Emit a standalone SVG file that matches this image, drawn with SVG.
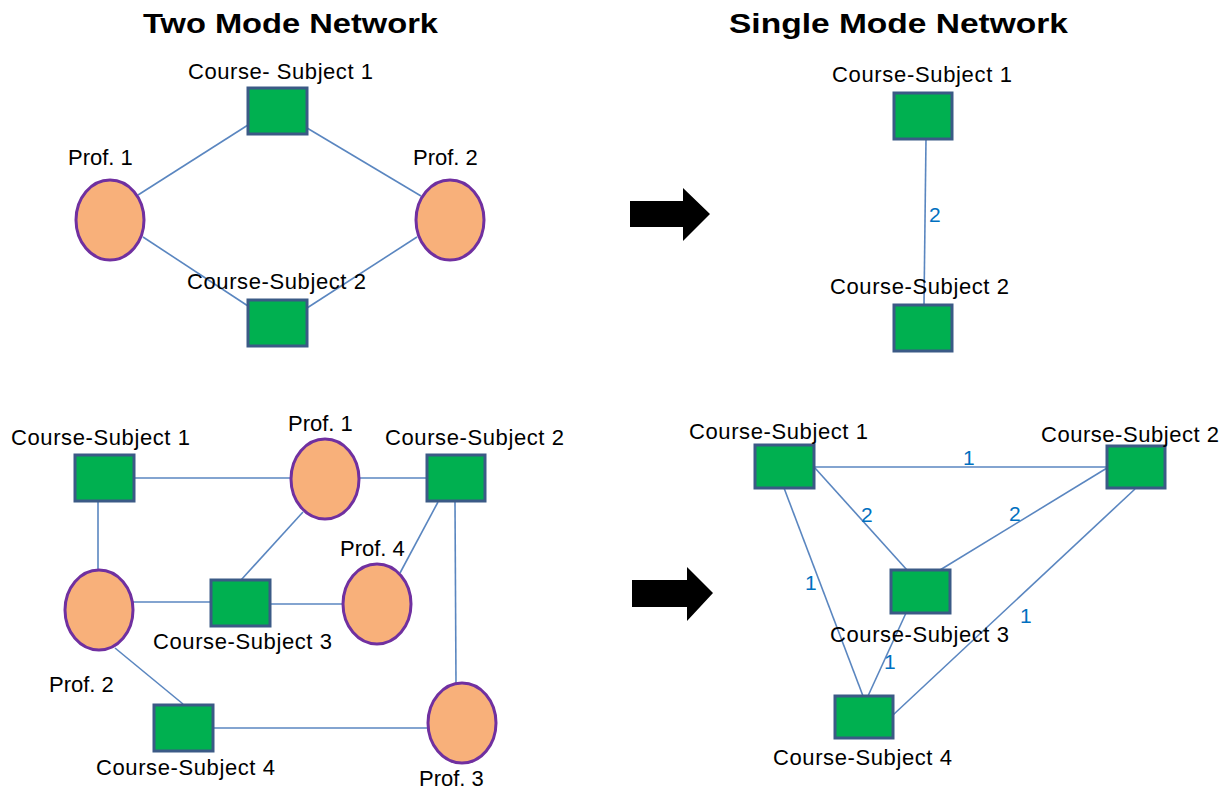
<svg xmlns="http://www.w3.org/2000/svg" width="1231" height="791" viewBox="0 0 1231 791">
  <style>
    .title { font-family: "Liberation Sans", Arial, sans-serif; font-weight: bold; font-size: 28px; fill: #000; }
    .lbl { font-family: "Liberation Sans", Arial, sans-serif; font-size: 22px; fill: #000; }
    .num { font-family: "Liberation Sans", Arial, sans-serif; font-size: 21px; fill: #0070C0; }
    .course { fill: #00B050; stroke: #3B5A86; stroke-width: 3; }
    .prof { fill: #F8B07A; stroke: #7030A0; stroke-width: 3; }
    .edge { stroke: #5A86C0; stroke-width: 1.6; fill: none; }
    .arrow { fill: #000; }
  </style>

  <!-- headings -->
  <text class="title" x="143" y="33" textLength="295" lengthAdjust="spacingAndGlyphs">Two Mode Network</text>
  <text class="title" x="729" y="33" textLength="339" lengthAdjust="spacingAndGlyphs">Single Mode Network</text>

  <!-- transformation arrows -->
  <g id="arrow-top"><polygon class="arrow" points="630,201 683,201 683,188 710,214 683,241 683,227 630,227"/></g>
  <g id="arrow-bottom"><polygon class="arrow" points="632,580 687,580 687,567 713,593 687,621 687,607 632,607"/></g>

  <!-- connectors -->
  <g id="connectors">
    <!-- two mode, top -->
    <line class="edge" x1="248" y1="125" x2="138" y2="195"/>
    <line class="edge" x1="307" y1="128" x2="421" y2="196"/>
    <line class="edge" x1="143" y1="237" x2="248" y2="306"/>
    <line class="edge" x1="417" y1="237" x2="307" y2="308"/>
    <!-- single mode, top -->
    <line class="edge" x1="926" y1="139" x2="924" y2="304"/>
    <!-- two mode, bottom -->
    <line class="edge" x1="134" y1="478" x2="291" y2="478"/>
    <line class="edge" x1="360" y1="478" x2="427" y2="478"/>
    <line class="edge" x1="98" y1="502" x2="98" y2="570"/>
    <line class="edge" x1="303" y1="512" x2="241" y2="580"/>
    <line class="edge" x1="438" y1="502" x2="400" y2="573"/>
    <line class="edge" x1="455" y1="502" x2="456" y2="683"/>
    <line class="edge" x1="133" y1="602" x2="211" y2="602"/>
    <line class="edge" x1="270" y1="604" x2="342" y2="604"/>
    <line class="edge" x1="115" y1="648" x2="183" y2="704"/>
    <line class="edge" x1="213" y1="728" x2="427" y2="728"/>
    <!-- single mode, bottom -->
    <line class="edge" x1="814" y1="467" x2="1107" y2="467"/>
    <line class="edge" x1="815" y1="468" x2="907" y2="570"/>
    <line class="edge" x1="940" y1="570" x2="1107" y2="468"/>
    <line class="edge" x1="784" y1="488" x2="863" y2="696"/>
    <line class="edge" x1="906" y1="613" x2="868" y2="696"/>
    <line class="edge" x1="1135" y1="489" x2="893" y2="715"/>
  </g>

  <!-- edge weights -->
  <g id="weights">
    <text class="num" x="929" y="222">2</text>
    <text class="num" x="963" y="465">1</text>
    <text class="num" x="861" y="522">2</text>
    <text class="num" x="1009" y="521">2</text>
    <text class="num" x="805" y="590">1</text>
    <text class="num" x="1020" y="623">1</text>
    <text class="num" x="884" y="669">1</text>
  </g>

  <!-- two mode network, top -->
  <g id="tm1-course1">
    <rect class="course" x="248" y="88" width="59" height="46"/>
    <text class="lbl" x="188" y="79" textLength="185" lengthAdjust="spacing">Course- Subject 1</text>
  </g>
  <g id="tm1-course2">
    <rect class="course" x="248" y="300" width="59" height="46"/>
    <text class="lbl" x="187" y="289" textLength="179" lengthAdjust="spacing">Course-Subject 2</text>
  </g>
  <g id="tm1-prof1">
    <ellipse class="prof" cx="110" cy="220" rx="34" ry="40"/>
    <text class="lbl" x="68" y="165">Prof. 1</text>
  </g>
  <g id="tm1-prof2">
    <ellipse class="prof" cx="450" cy="220" rx="34" ry="40"/>
    <text class="lbl" x="413" y="165">Prof. 2</text>
  </g>

  <!-- single mode network, top -->
  <g id="sm1-course1">
    <rect class="course" x="894" y="93" width="58" height="46"/>
    <text class="lbl" x="832" y="82" textLength="180" lengthAdjust="spacing">Course-Subject 1</text>
  </g>
  <g id="sm1-course2">
    <rect class="course" x="894" y="305" width="58" height="46"/>
    <text class="lbl" x="830" y="294" textLength="179" lengthAdjust="spacing">Course-Subject 2</text>
  </g>

  <!-- two mode network, bottom -->
  <g id="tm2-course1">
    <rect class="course" x="75" y="455" width="59" height="46"/>
    <text class="lbl" x="11" y="445" textLength="179" lengthAdjust="spacing">Course-Subject 1</text>
  </g>
  <g id="tm2-course2">
    <rect class="course" x="427" y="455" width="58" height="46"/>
    <text class="lbl" x="385" y="445" textLength="179" lengthAdjust="spacing">Course-Subject 2</text>
  </g>
  <g id="tm2-course3">
    <rect class="course" x="211" y="580" width="59" height="46"/>
    <text class="lbl" x="153" y="649" textLength="179" lengthAdjust="spacing">Course-Subject 3</text>
  </g>
  <g id="tm2-course4">
    <rect class="course" x="154" y="705" width="59" height="46"/>
    <text class="lbl" x="96" y="775" textLength="179" lengthAdjust="spacing">Course-Subject 4</text>
  </g>
  <g id="tm2-prof1">
    <ellipse class="prof" cx="325" cy="479" rx="34" ry="40"/>
    <text class="lbl" x="288" y="431">Prof. 1</text>
  </g>
  <g id="tm2-prof2">
    <ellipse class="prof" cx="99" cy="610" rx="34" ry="40"/>
    <text class="lbl" x="49" y="692">Prof. 2</text>
  </g>
  <g id="tm2-prof3">
    <ellipse class="prof" cx="462" cy="723" rx="34" ry="40"/>
    <text class="lbl" x="419" y="786">Prof. 3</text>
  </g>
  <g id="tm2-prof4">
    <ellipse class="prof" cx="377" cy="604" rx="34" ry="40"/>
    <text class="lbl" x="340" y="556">Prof. 4</text>
  </g>

  <!-- single mode network, bottom -->
  <g id="sm2-course1">
    <rect class="course" x="755" y="445" width="59" height="43"/>
    <text class="lbl" x="689" y="439" textLength="179" lengthAdjust="spacing">Course-Subject 1</text>
  </g>
  <g id="sm2-course2">
    <rect class="course" x="1107" y="446" width="58" height="42"/>
    <text class="lbl" x="1041" y="442" textLength="178" lengthAdjust="spacing">Course-Subject 2</text>
  </g>
  <g id="sm2-course3">
    <rect class="course" x="891" y="570" width="59" height="43"/>
    <text class="lbl" x="830" y="642" textLength="179" lengthAdjust="spacing">Course-Subject 3</text>
  </g>
  <g id="sm2-course4">
    <rect class="course" x="835" y="696" width="58" height="42"/>
    <text class="lbl" x="773" y="765" textLength="179" lengthAdjust="spacing">Course-Subject 4</text>
  </g>
</svg>
